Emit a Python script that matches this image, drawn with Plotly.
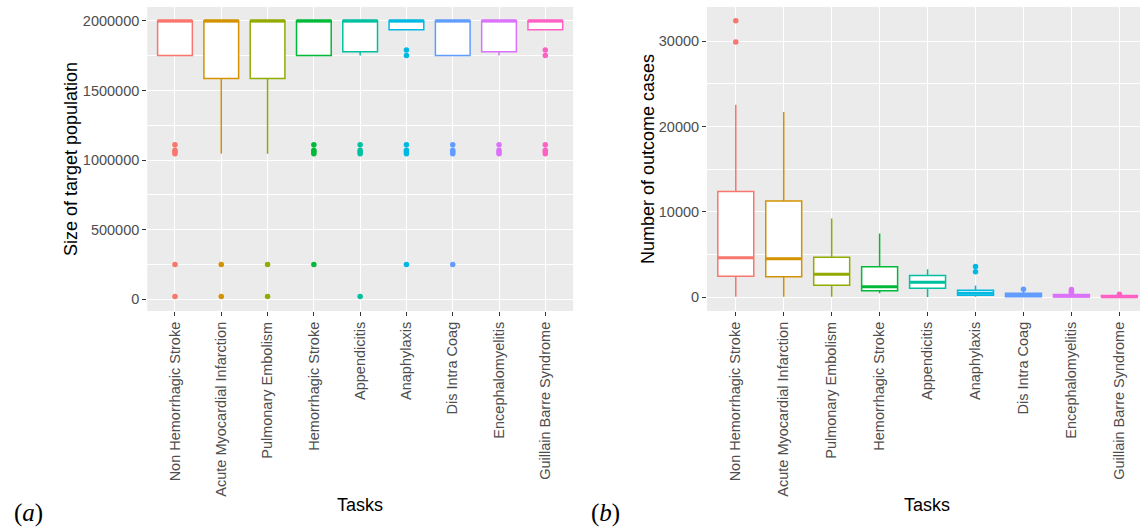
import plotly.graph_objects as go

# ---- data -------------------------------------------------------------
tasks = [
    "Non Hemorrhagic Stroke",
    "Acute Myocardial Infarction",
    "Pulmonary Embolism",
    "Hemorrhagic Stroke",
    "Appendicitis",
    "Anaphylaxis",
    "Dis Intra Coag",
    "Encephalomyelitis",
    "Guillain Barre Syndrome",
]

# (a) size of target population
pop_lower = [1750000, 1045000, 1045000, 1750000, 1750000, 1935000, 1750000, 1750000, 1935000]
pop_q1 = [1750000, 1585000, 1585000, 1750000, 1778000, 1935000, 1750000, 1778000, 1935000]
pop_median = [2000000, 2000000, 2000000, 2000000, 2000000, 2000000, 2000000, 2000000, 2000000]
pop_q3 = [2000000, 2000000, 2000000, 2000000, 2000000, 2000000, 2000000, 2000000, 2000000]
pop_upper = [2000000, 2000000, 2000000, 2000000, 2000000, 2000000, 2000000, 2000000, 2000000]
pop_outliers = [
    [1110000, 1070000, 1057000, 1045000, 250000, 20000],
    [250000, 20000],
    [250000, 20000],
    [1110000, 1070000, 1057000, 1045000, 250000],
    [1110000, 1070000, 1057000, 1045000, 20000],
    [1790000, 1750000, 1110000, 1070000, 1057000, 1045000, 250000],
    [1110000, 1070000, 1057000, 1045000, 250000],
    [1110000, 1070000, 1057000, 1045000],
    [1790000, 1750000, 1110000, 1070000, 1057000, 1045000],
]

# (b) number of outcome cases
cases_lower = [60, 60, 40, 470, 35, 60, 20, 10, 5]
cases_q1 = [2465, 2383, 1408, 740, 1056, 235, 40, 30, 10]
cases_median = [4613, 4495, 2700, 1209, 1760, 470, 250, 150, 60]
cases_q3 = [12394, 11268, 4695, 3556, 2535, 820, 470, 305, 190]
cases_upper = [22570, 21714, 9225, 7465, 3286, 1360, 600, 420, 260]
cases_outliers = [
    [32400, 29930],
    [],
    [],
    [],
    [],
    [3590, 2970],
    [939],
    [900, 700, 560],
    [350],
]

colors = ["#F8766D", "#D39200", "#93AA00", "#00BA38", "#00C19F",
          "#00B9E3", "#619CFF", "#DB72FB", "#FF61C3"]

# ---- figure -------------------------------------------------------------
W, H = 1140, 527
BOX_W = 0.75
fig = go.Figure()


def add_panel(xref, yref, lower, q1, med, q3, upper, outliers):
    xa = "x" if xref == "x" else xref
    ya = "y" if yref == "y" else yref
    for i in range(len(tasks)):
        c = colors[i]
        fig.add_trace(go.Box(
            x=[i], q1=[q1[i]], median=[med[i]], q3=[q3[i]],
            lowerfence=[lower[i]], upperfence=[upper[i]],
            width=BOX_W, fillcolor="white", boxpoints=False,
            line=dict(color=c, width=1.5), whiskerwidth=0,
            xaxis=xa, yaxis=ya, showlegend=False, hoverinfo="skip",
        ))
        # thicker median bar, as in ggplot
        fig.add_trace(go.Scatter(
            x=[i - BOX_W / 2, i + BOX_W / 2], y=[med[i], med[i]],
            mode="lines", line=dict(color=c, width=3),
            xaxis=xa, yaxis=ya, showlegend=False, hoverinfo="skip",
        ))
        if outliers[i]:
            fig.add_trace(go.Scatter(
                x=[i] * len(outliers[i]), y=outliers[i], mode="markers",
                marker=dict(color=c, size=5.5),
                xaxis=xa, yaxis=ya, showlegend=False, hoverinfo="skip",
            ))


add_panel("x", "y", pop_lower, pop_q1, pop_median, pop_q3, pop_upper, pop_outliers)
add_panel("x2", "y2", cases_lower, cases_q1, cases_median, cases_q3, cases_upper, cases_outliers)

tick_font = dict(family="Liberation Sans, Arial, sans-serif", size=14.5, color="#4D4D4D")
title_font = dict(family="Liberation Sans, Arial, sans-serif", size=18, color="black")

y_top = 1 - 7 / H
y_bot = 1 - 311 / H

xcommon = dict(
    tickmode="array", tickvals=list(range(len(tasks))), ticktext=tasks,
    tickangle=-90, tickfont=tick_font, showgrid=True, gridcolor="white",
    gridwidth=1.2, ticks="outside", ticklen=4, tickcolor="#333333",
    showline=False, zeroline=False,
)
ycommon = dict(
    tickfont=tick_font, showgrid=True, gridcolor="white", gridwidth=1.2,
    ticks="outside", ticklen=4, tickcolor="#333333", showline=False,
    zeroline=False, tickformat="d",
)

fig.update_layout(
    width=W, height=H,
    margin=dict(l=0, r=0, t=0, b=0),
    paper_bgcolor="white", plot_bgcolor="#EBEBEB",
    boxmode="overlay",
    xaxis=dict(domain=[147.2 / W, 573.1 / W], range=[-0.6, 8.6], anchor="y", **xcommon),
    yaxis=dict(domain=[y_bot, y_top], range=[-84250, 2099250], anchor="x",
               tickvals=[0, 500000, 1000000, 1500000, 2000000],
               minor=dict(dtick=250000, showgrid=True, gridcolor="white", gridwidth=0.6),
               **ycommon),
    xaxis2=dict(domain=[707 / W, 1.0], range=[-0.6, 8.43], anchor="y2", **xcommon),
    yaxis2=dict(domain=[y_bot, y_top], range=[-1620, 34020], anchor="x2",
                tickvals=[0, 10000, 20000, 30000],
                minor=dict(dtick=5000, showgrid=True, gridcolor="white", gridwidth=0.6),
                **ycommon),
)

ann = [
    dict(text="Size of target population", x=71, y=159, textangle=-90, font=title_font),
    dict(text="Number of outcome cases", x=648, y=159, textangle=-90, font=title_font),
    dict(text="Tasks", x=360, y=505, font=title_font),
    dict(text="Tasks", x=927, y=505, font=title_font),
    dict(text="(<i>a</i>)", x=28, y=513,
         font=dict(family="Liberation Serif, Times New Roman, serif", size=25, color="black")),
    dict(text="(<i>b</i>)", x=605, y=513,
         font=dict(family="Liberation Serif, Times New Roman, serif", size=25, color="black")),
]
for a in ann:
    fig.add_annotation(
        text=a["text"], x=a["x"] / W, y=1 - a["y"] / H, xref="paper", yref="paper",
        xanchor="center", yanchor="middle", showarrow=False,
        textangle=a.get("textangle", 0), font=a["font"],
    )

fig.write_html("out.html")
